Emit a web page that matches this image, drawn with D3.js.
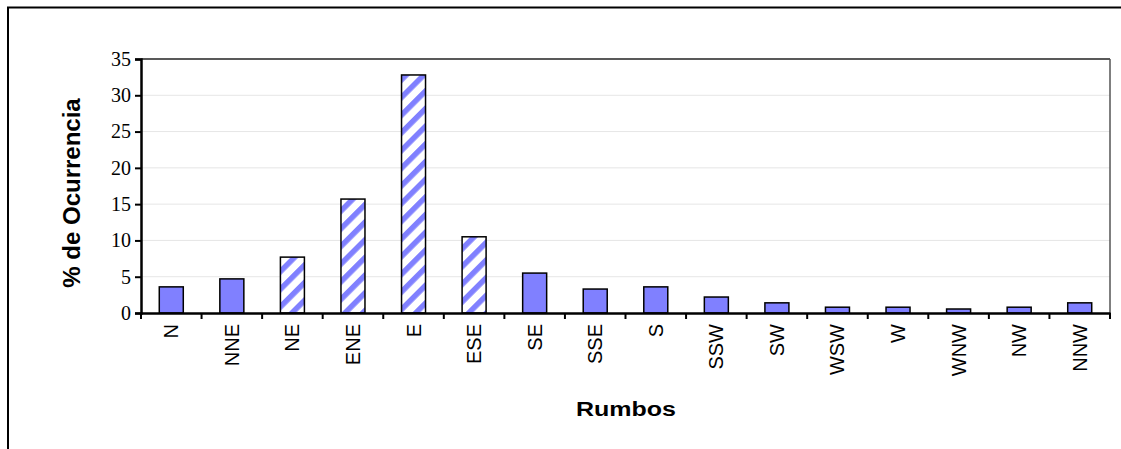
<!DOCTYPE html>
<html><head><meta charset="utf-8">
<script src="https://cdn.jsdelivr.net/npm/d3@7"></script>
<style>body{margin:0;background:#fff}svg{display:block}</style>
</head><body>
<svg id="c" width="1121" height="449"></svg>
<script>
const categories = ["N","NNE","NE","ENE","E","ESE","SE","SSE","S","SSW","SW","WSW","W","WNW","NW","NNW"];
const values = [3.6, 4.7, 7.7, 15.7, 32.8, 10.5, 5.5, 3.3, 3.6, 2.2, 1.4, 0.8, 0.8, 0.55, 0.8, 1.4];
const hatched = ["NE","ENE","E","ESE"];
const yTicks = [0,5,10,15,20,25,30,35];
const yTitle = "% de Ocurrencia";
const xTitle = "Rumbos";

const svg = d3.select("#c");
const m = {left:141, top:59, right:1110, bottom:313};

const defs = svg.append("defs");
const pat = defs.append("pattern").attr("id","hatch").attr("patternUnits","userSpaceOnUse")
  .attr("width",12.5).attr("height",12.5).attr("patternTransform","rotate(45)");
pat.append("rect").attr("width",12.5).attr("height",12.5).attr("fill","#fff");
pat.append("rect").attr("width",5.5).attr("height",12.5).attr("fill","#8080ff");

// outer frame
svg.append("rect").attr("x",8).attr("y",7.5).attr("width",1200).attr("height",600)
  .attr("fill","none").attr("stroke","#000").attr("stroke-width",2);

const x = d3.scaleBand().domain(categories).range([m.left,m.right]).paddingInner(0.6).paddingOuter(0.3);
const xb = d3.scaleBand().domain(categories).range([m.left,m.right]);
const y = d3.scaleLinear().domain([0,35]).range([m.bottom,m.top]);

// grid
svg.append("g").selectAll("line").data(yTicks.filter(d=>d>0&&d<35)).join("line")
  .attr("x1",m.left).attr("x2",m.right).attr("y1",d=>y(d)).attr("y2",d=>y(d))
  .attr("stroke","#e6e6e6").attr("stroke-width",1);

// plot border top/right
svg.append("line").attr("x1",m.left).attr("x2",m.right).attr("y1",m.top).attr("y2",m.top).attr("stroke","#222").attr("stroke-width",1.5);
svg.append("line").attr("x1",m.right).attr("x2",m.right).attr("y1",m.top).attr("y2",m.bottom).attr("stroke","#555").attr("stroke-width",1.5);

// bars
svg.append("g").selectAll("rect").data(categories).join("rect")
  .attr("x",d=>xb(d)+xb.bandwidth()/2-12).attr("width",24)
  .attr("y",(d,i)=>y(values[i])).attr("height",(d,i)=>y(0)-y(values[i]))
  .attr("fill",d=>hatched.includes(d)?"url(#hatch)":"#8080ff")
  .attr("stroke","#000").attr("stroke-width",1.5);

// y axis
const ya = svg.append("g").attr("transform",`translate(${m.left},0)`)
  .call(d3.axisLeft(y).tickValues(yTicks).tickSize(6).tickPadding(4));
ya.select(".domain").attr("stroke-width",2.5);
ya.selectAll(".tick line").attr("stroke-width",2);
ya.selectAll("text").attr("font-family","'Liberation Serif','Times New Roman',serif").attr("font-size",20).attr("fill","#000");
// x axis
const xa = svg.append("g").attr("transform",`translate(0,${m.bottom})`)
  .call(d3.axisBottom(xb).tickValues([]).tickSize(0));
xa.select(".domain").attr("stroke-width",2.5);
svg.append("g").selectAll("line").data(d3.range(categories.length+1)).join("line")
  .attr("x1",i=>m.left+i*xb.step()).attr("x2",i=>m.left+i*xb.step())
  .attr("y1",m.bottom).attr("y2",m.bottom+6).attr("stroke","#000").attr("stroke-width",2);
svg.append("g").selectAll("text").data(categories).join("text")
  .attr("transform",d=>`translate(${xb(d)+xb.bandwidth()/2+7},${m.bottom+11}) rotate(-90)`)
  .attr("text-anchor","end").attr("font-family","'Liberation Sans',Arial,sans-serif").attr("font-size",20)
  .text(d=>d);

// titles
svg.append("text").attr("transform",`translate(80,${(m.top+m.bottom)/2+7}) rotate(-90)`)
  .attr("text-anchor","middle").attr("font-family","'Liberation Sans',Arial,sans-serif")
  .attr("font-weight","bold").attr("font-size",24).text(yTitle);
svg.append("text").attr("transform",`translate(626,416) scale(1.25,1)`)
  .attr("text-anchor","middle").attr("font-family","'Liberation Sans',Arial,sans-serif")
  .attr("font-weight","bold").attr("font-size",20).text(xTitle);
</script>
</body></html>
